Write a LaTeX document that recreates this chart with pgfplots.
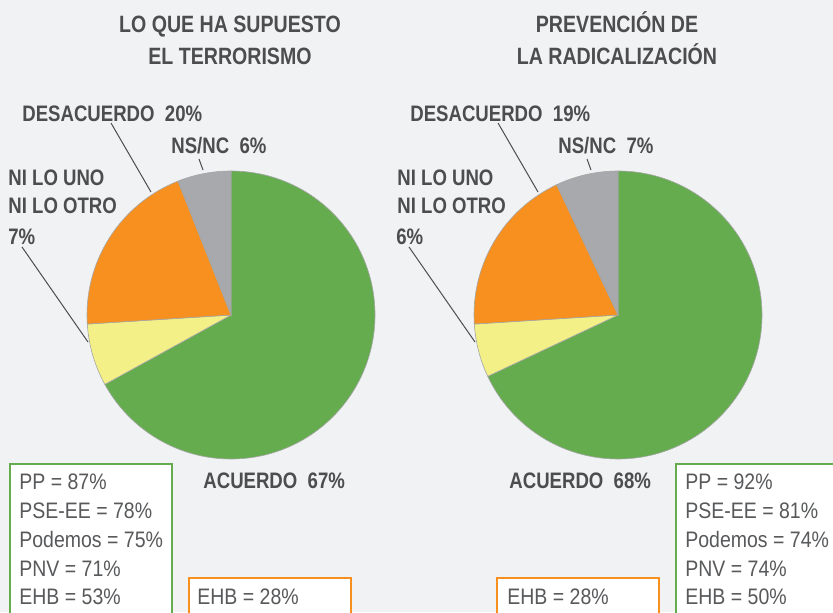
\documentclass[border=0pt]{standalone}
\usepackage{pgfplots}
\pgfplotsset{compat=1.18}
\usepackage{fontspec}
\setmainfont{Liberation Sans}
\newfontfamily\labfont[FakeStretch=0.83]{Liberation Sans Bold}
\newfontfamily\boxfont[FakeStretch=0.87]{Liberation Sans}
\definecolor{cGreen}{RGB}{101,172,79}
\definecolor{cOrange}{RGB}{247,144,30}
\definecolor{cYellow}{RGB}{243,240,136}
\definecolor{cGray}{RGB}{167,169,172}
\definecolor{cBg}{RGB}{241,242,244}
\definecolor{cText}{RGB}{77,77,79}
\definecolor{cBoxText}{RGB}{88,89,91}
% pie values (percent), clockwise from 12 o'clock: acuerdo, ni lo uno, desacuerdo, ns/nc
\def\LA{67}\def\LB{7}\def\LC{20}\def\LD{6}
\def\RA{68}\def\RB{6}\def\RC{19}\def\RD{7}
\begin{document}
\begin{tikzpicture}
\path[use as bounding box] (0,0) rectangle (416.5pt,306pt);
\clip (0,0) rectangle (416.5pt,306pt);
\fill[cBg] (0,0) rectangle (416.5pt,306pt);
\pgfmathsetmacro\laA{90-3.6*\LA}
\pgfmathsetmacro\laB{\laA-3.6*\LB}
\pgfmathsetmacro\laC{\laB-3.6*\LC}
\pgfmathsetmacro\laD{\laC-3.6*\LD}
\pgfmathsetmacro\raA{90-3.6*\RA}
\pgfmathsetmacro\raB{\raA-3.6*\RB}
\pgfmathsetmacro\raC{\raB-3.6*\RC}
\pgfmathsetmacro\raD{\raC-3.6*\RD}
\begin{axis}[
  at={(0,0)}, anchor=south west,
  width=416.5pt, height=306pt, scale only axis,
  xmin=0, xmax=833, ymin=0, ymax=612,
  hide axis, clip=false,
]
% ---- left pie
\fill[cGreen,  draw=black!35, line width=0.3pt] (axis cs:231,297) -- ++(90:72pt) arc[start angle=90, end angle=\laA, radius=72pt] -- cycle;
\fill[cYellow, draw=black!35, line width=0.3pt] (axis cs:231,297) -- ++(\laA:72pt) arc[start angle=\laA, end angle=\laB, radius=72pt] -- cycle;
\fill[cOrange, draw=black!35, line width=0.3pt] (axis cs:231,297) -- ++(\laB:72pt) arc[start angle=\laB, end angle=\laC, radius=72pt] -- cycle;
\fill[cGray,   draw=black!35, line width=0.3pt] (axis cs:231,297) -- ++(\laC:72pt) arc[start angle=\laC, end angle=\laD, radius=72pt] -- cycle;
% ---- right pie
\fill[cGreen,  draw=black!35, line width=0.3pt] (axis cs:618,297) -- ++(90:72pt) arc[start angle=90, end angle=\raA, radius=72pt] -- cycle;
\fill[cYellow, draw=black!35, line width=0.3pt] (axis cs:618,297) -- ++(\raA:72pt) arc[start angle=\raA, end angle=\raB, radius=72pt] -- cycle;
\fill[cOrange, draw=black!35, line width=0.3pt] (axis cs:618,297) -- ++(\raB:72pt) arc[start angle=\raB, end angle=\raC, radius=72pt] -- cycle;
\fill[cGray,   draw=black!35, line width=0.3pt] (axis cs:618,297) -- ++(\raC:72pt) arc[start angle=\raC, end angle=\raD, radius=72pt] -- cycle;
% ---- leader lines
\draw[cText, line width=0.5pt] (axis cs:111,489) -- (axis cs:151,420);
\draw[cText, line width=0.5pt] (axis cs:199,453) -- (axis cs:203,442);
\draw[cText, line width=0.5pt] (axis cs:22,365) -- (axis cs:88,270);
\draw[cText, line width=0.5pt] (axis cs:498,489) -- (axis cs:538,420);
\draw[cText, line width=0.5pt] (axis cs:587,453) -- (axis cs:591,442);
\draw[cText, line width=0.5pt] (axis cs:409,365) -- (axis cs:475,270);
% ---- titles
\begin{scope}[every node/.style={inner sep=0pt, text=cText, font=\labfont\fontsize{11.8pt}{13pt}\selectfont}]
\node[anchor=base] at (axis cs:230,579) {LO QUE HA SUPUESTO};
\node[anchor=base] at (axis cs:230,547) {EL TERRORISMO};
\node[anchor=base] at (axis cs:617,579) {PREVENCIÓN DE};
\node[anchor=base] at (axis cs:617,547) {LA RADICALIZACIÓN};
\end{scope}
% ---- slice labels
\begin{scope}[every node/.style={inner sep=0pt, anchor=base west, text=cText, font=\labfont\fontsize{11.2pt}{13pt}\selectfont}]
\node at (axis cs:22,491) {DESACUERDO\ \ 20\%};
\node at (axis cs:171,459) {NS/NC\ \ 6\%};
\node at (axis cs:8,427) {NI LO UNO};
\node at (axis cs:8,399) {NI LO OTRO};
\node at (axis cs:8,368) {7\%};
\node at (axis cs:203,124) {ACUERDO\ \ 67\%};
\node at (axis cs:410,491) {DESACUERDO\ \ 19\%};
\node at (axis cs:558,459) {NS/NC\ \ 7\%};
\node at (axis cs:397,427) {NI LO UNO};
\node at (axis cs:397,399) {NI LO OTRO};
\node at (axis cs:396,368) {6\%};
\node at (axis cs:509,124) {ACUERDO\ \ 68\%};
\end{scope}
% ---- boxes
\filldraw[fill=white, draw=cGreen, line width=1pt] (axis cs:10,148) rectangle (axis cs:172,-20);
\filldraw[fill=white, draw=cOrange, line width=1pt] (axis cs:189,34) rectangle (axis cs:351,-20);
\filldraw[fill=white, draw=cOrange, line width=1pt] (axis cs:497,34) rectangle (axis cs:659,-20);
\filldraw[fill=white, draw=cGreen, line width=1pt] (axis cs:676,148) rectangle (axis cs:860,-20);
\begin{scope}[every node/.style={inner sep=0pt, anchor=base west, text=cBoxText, font=\boxfont\fontsize{11.2pt}{13pt}\selectfont}]
\node at (axis cs:19,123) {PP = 87\%};
\node at (axis cs:19,94) {PSE-EE = 78\%};
\node at (axis cs:19,65) {Podemos = 75\%};
\node at (axis cs:19,36) {PNV = 71\%};
\node at (axis cs:19,8) {EHB = 53\%};
\node at (axis cs:197,8) {EHB = 28\%};
\node at (axis cs:507,8) {EHB = 28\%};
\node at (axis cs:685,123) {PP = 92\%};
\node at (axis cs:685,94) {PSE-EE = 81\%};
\node at (axis cs:685,65) {Podemos = 74\%};
\node at (axis cs:685,36) {PNV = 74\%};
\node at (axis cs:685,8) {EHB = 50\%};
\end{scope}
\end{axis}
\end{tikzpicture}
\end{document}
